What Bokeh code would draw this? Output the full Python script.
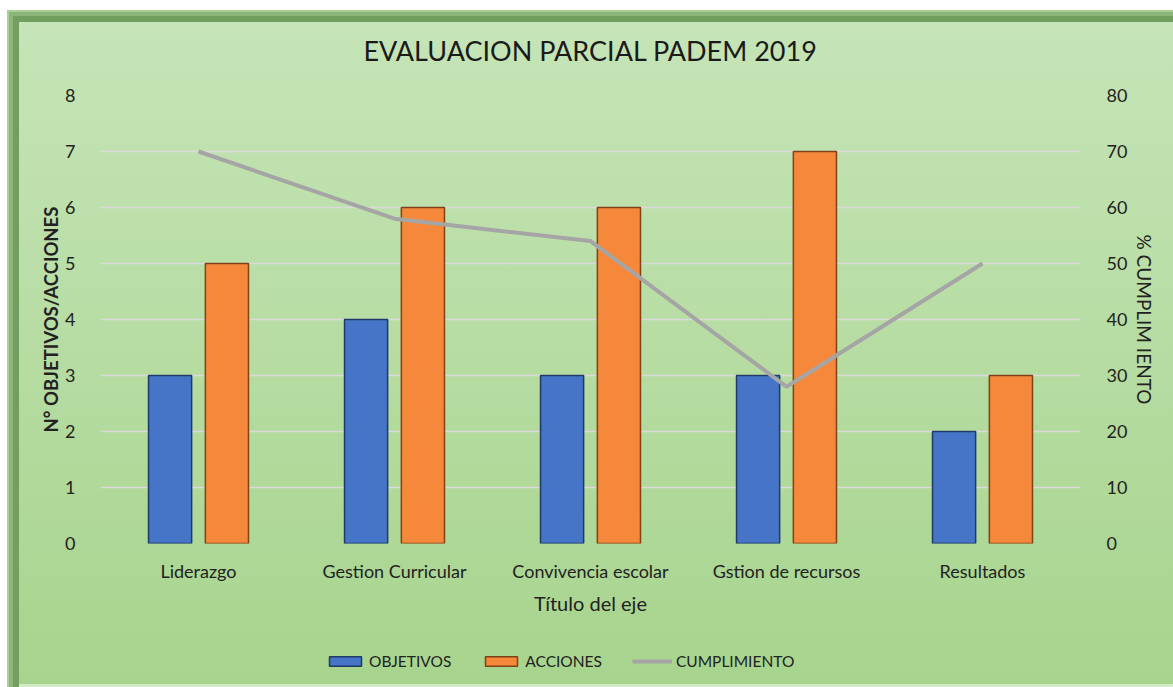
from bokeh.plotting import figure
from bokeh.layouts import column
from bokeh.models import (FactorRange, LinearAxis, Range1d, Legend, LegendItem,
                          ColumnDataSource, FixedTicker, Title)
from bokeh.transform import dodge
from bokeh.embed import file_html
from bokeh.resources import INLINE

categorias = ["Liderazgo", "Gestion Curricular", "Convivencia escolar",
              "Gstion de recursos", "Resultados"]
objetivos = [3, 4, 3, 3, 2]
acciones = [5, 6, 6, 7, 3]
cumplimiento = [70, 58, 54, 28, 50]
series = ["OBJETIVOS", "ACCIONES", "CUMPLIMIENTO"]

FONT = "Lato"
TXT = "#222222"
BLUE, BLUE_EDGE = "#4674C6", "#1f3a66"
ORANGE, ORANGE_EDGE = "#F5883A", "#7f4216"
GRAY = "#A5A5A5"

src = ColumnDataSource(dict(cat=categorias, obj=objetivos, acc=acciones, cum=cumplimiento))

p = figure(x_range=FactorRange(*categorias, range_padding=0), y_range=Range1d(0, 8),
           frame_width=980, frame_height=448, output_backend="svg", toolbar_location=None,
           min_border_left=100, min_border_right=93, min_border_top=95, min_border_bottom=95)
p.border_fill_color = None
p.background_fill_color = None
p.outline_line_color = None

p.title = Title(text="EVALUACION PARCIAL PADEM 2019", align="center",
                text_font=FONT, text_font_size="27px", text_font_style="normal",
                text_color="#1a1a1a", standoff=58)

p.extra_y_ranges = {"pct": Range1d(0, 80)}

p.vbar(x=dodge("cat", -0.145, range=p.x_range), top="obj", width=0.22, source=src,
       fill_color=BLUE, line_color=BLUE_EDGE, line_width=1.5)
p.vbar(x=dodge("cat", 0.145, range=p.x_range), top="acc", width=0.22, source=src,
       fill_color=ORANGE, line_color=ORANGE_EDGE, line_width=1.5)
p.line(x="cat", y="cum", source=src, y_range_name="pct", line_color=GRAY, line_width=4)

p.ygrid.grid_line_color = "#dadada"
p.ygrid.grid_line_width = 1.3
p.xgrid.grid_line_color = None

def style_axis(ax):
    ax.axis_line_color = None
    ax.major_tick_line_color = None
    ax.minor_tick_line_color = None
    ax.major_label_text_font = FONT
    ax.major_label_text_font_size = "18px"
    ax.major_label_text_color = TXT
    ax.axis_label_text_font = FONT
    ax.axis_label_text_font_size = "19px"
    ax.axis_label_text_font_style = "normal"
    ax.axis_label_text_color = TXT

yl = p.yaxis[0]
yl.ticker = FixedTicker(ticks=list(range(0, 9)))
yl.axis_label = "N° OBJETIVOS/ACCIONES"
style_axis(yl)
yl.major_label_standoff = 19
yl.axis_label_standoff = 0
yl.axis_label_text_font_size = "18.5px"
yl.axis_label_text_font_style = "bold"

yr = LinearAxis(y_range_name="pct", axis_label="% CUMPLIM IENTO",
                ticker=FixedTicker(ticks=list(range(0, 81, 10))))
style_axis(yr)
yr.major_label_standoff = 20
yr.axis_label_standoff = 3
p.add_layout(yr, "right")

xa = p.xaxis[0]
xa.axis_label = "Título del eje"
style_axis(xa)
xa.major_label_standoff = 10
xa.axis_label_standoff = 6
xa.axis_label_text_font_size = "20px"

# legend strip below the chart (legend proxies of the same series, not drawn)
leg = figure(x_range=FactorRange(*categorias), y_range=Range1d(0, 8),
             frame_width=1173, frame_height=49,
             x_axis_type=None, y_axis_type=None, output_backend="svg", toolbar_location=None,
             min_border=0)
leg.border_fill_color = None
leg.background_fill_color = None
leg.outline_line_color = None
r1 = leg.vbar(x="cat", top="obj", width=0.22, source=src,
              fill_color=BLUE, line_color=BLUE_EDGE, line_width=1.5)
r2 = leg.vbar(x="cat", top="acc", width=0.22, source=src,
              fill_color=ORANGE, line_color=ORANGE_EDGE, line_width=1.5)
r3 = leg.line(x="cat", y="cum", source=src, line_color=GRAY, line_width=4)
for r in (r1, r2, r3):
    r.visible = False

legend = Legend(items=[LegendItem(label=series[0], renderers=[r1]),
                       LegendItem(label=series[1], renderers=[r2]),
                       LegendItem(label=series[2], renderers=[r3])],
                orientation="horizontal", location=(325, 17),
                background_fill_alpha=0, border_line_color=None,
                inactive_fill_alpha=0,
                label_text_font=FONT, label_text_font_size="15.5px", label_text_color=TXT,
                glyph_width=40, glyph_height=12, spacing=30, label_standoff=4,
                padding=6, margin=0)
leg.add_layout(legend, "center")

layout = column(p, leg, spacing=0)
layout.styles = {
    "background": "linear-gradient(#c7e5b9, #a7d48d)",
    "box-shadow": ("inset 7px 10px 0 0 #ffffff, inset 9px 12px 0 0 #a9d096, "
                   "inset 13px 16px 0 0 #8db57a, inset 19px 22px 0 0 #729e60, "
                   "inset 0 -3px 0 0 #d3ebc6"),
}

open("out.html", "w").write(file_html(layout, INLINE))
